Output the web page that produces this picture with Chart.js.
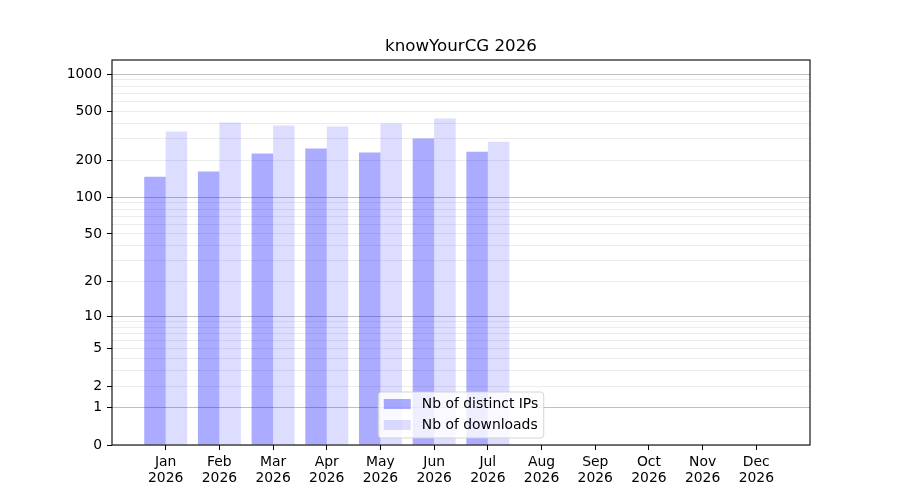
<!DOCTYPE html>
<html>
<head>
<meta charset="utf-8">
<title>knowYourCG 2026</title>
<script src="https://cdn.jsdelivr.net/npm/chart.js@4.4.1/dist/chart.umd.min.js"></script>
<style>
  html, body { margin: 0; padding: 0; background: #fff; }
  canvas { display: block; }
</style>
</head>
<body>
<canvas id="chart" width="900" height="500"></canvas>
<script>
const months = ["Jan", "Feb", "Mar", "Apr", "May", "Jun", "Jul", "Aug", "Sep", "Oct", "Nov", "Dec"];
const year = "2026";
const distinctIPs = [147, 162, 227, 249, 231, 300, 235];
const downloads = [342, 405, 383, 376, 397, 436, 283];
const yTickLabels = [0, 1, 2, 5, 10, 20, 50, 100, 200, 500, 1000];
const yMinorTicks = [3, 4, 6, 7, 8, 9, 30, 40, 60, 70, 80, 90, 300, 400, 600, 700, 800, 900];
const yMajorGrid = [1, 10, 100, 1000];

const FONT = "'DejaVu Sans', sans-serif";

// y axis that spaces values by log10(1 + v), so 0 can sit at the bottom
const f = (v) => Math.log10(1 + v);

class Log1pScale extends Chart.Scale {
  determineDataLimits() {
    this.min = this.options.min ?? 0;
    this.max = this.options.max ?? 1000;
  }
  buildTicks() {
    return [...yTickLabels, ...yMinorTicks].sort((a, b) => a - b).map((v) => ({ value: v }));
  }
  configure() {
    super.configure();
    this._startT = f(this.min);
    this._rangeT = f(this.max) - f(this.min);
  }
  getLabelForValue(v) {
    return String(v);
  }
  getPixelForValue(v) {
    return this.getPixelForDecimal((f(v) - this._startT) / this._rangeT);
  }
  getValueForPixel(p) {
    return Math.pow(10, this._startT + this.getDecimalForPixel(p) * this._rangeT) - 1;
  }
}
Log1pScale.id = "log1p";
Log1pScale.defaults = {};
Chart.register(Log1pScale);

// full box around the plot + matplotlib-like legend inside, lower center
const frameAndLegend = {
  id: "frameAndLegend",
  afterDraw(chart) {
    const { ctx, chartArea } = chart;
    ctx.save();
    ctx.strokeStyle = "#000";
    ctx.lineWidth = 1.1;
    ctx.strokeRect(chartArea.left, chartArea.top, chartArea.right - chartArea.left, chartArea.bottom - chartArea.top);

    ctx.font = "13.9px " + FONT;
    const sets = chart.data.datasets;
    const textW = Math.max(...sets.map((d) => ctx.measureText(d.label).width));
    const pad = 5.5, handle = 27, gap = 11, row = 21;
    const w = pad + handle + gap + textW + pad;
    const h = 46;
    const x = (chartArea.left + chartArea.right) / 2 - w / 2;
    const y = chartArea.bottom - 7 - h;

    ctx.beginPath();
    ctx.roundRect(x, y, w, h, 3);
    ctx.fillStyle = "rgba(255,255,255,0.8)";
    ctx.fill();
    ctx.strokeStyle = "rgba(204,204,204,0.8)";
    ctx.lineWidth = 1;
    ctx.stroke();

    ctx.textBaseline = "middle";
    ctx.textAlign = "left";
    sets.forEach((d, i) => {
      const cy = y + 12 + i * row;
      ctx.fillStyle = d.backgroundColor;
      ctx.fillRect(x + pad, cy - 5, handle, 10);
      ctx.fillStyle = "#000";
      ctx.fillText(d.label, x + pad + handle + gap, cy);
    });
    ctx.restore();
  }
};

new Chart(document.getElementById("chart"), {
  type: "bar",
  data: {
    datasets: [
      {
        label: "Nb of distinct IPs",
        data: distinctIPs.map((v, i) => ({ x: i, y: v })),
        backgroundColor: "rgba(0,0,255,0.33)",
        borderWidth: 0
      },
      {
        label: "Nb of downloads",
        data: downloads.map((v, i) => ({ x: i, y: v })),
        backgroundColor: "rgba(0,0,255,0.135)",
        borderWidth: 0
      }
    ]
  },
  options: {
    responsive: false,
    animation: false,
    devicePixelRatio: 1,
    layout: { padding: { top: 36, right: 90, left: 0, bottom: 0 } },
    datasets: { bar: { categoryPercentage: 0.8, barPercentage: 1.0 } },
    plugins: {
      legend: { display: false },
      tooltip: { enabled: false },
      title: {
        display: true,
        text: "knowYourCG 2026",
        fullSize: false,
        color: "#000",
        font: { family: FONT, size: 16.67, weight: "normal", lineHeight: 1.2 },
        padding: { top: 1, bottom: 3 }
      }
    },
    scales: {
      x: {
        type: "linear",
        min: -1,
        max: 12,
        offset: false,
        afterFit: (s) => { s.height = 55; },
        border: { display: false },
        grid: {
          offset: false,
          drawOnChartArea: false,
          tickLength: 5,
          tickColor: (c) => (c.tick && c.tick.value >= 0 && c.tick.value < months.length ? "#000" : "rgba(0,0,0,0)")
        },
        ticks: {
          stepSize: 1,
          autoSkip: false,
          maxRotation: 0,
          padding: 5,
          color: "#000",
          font: { family: FONT, size: 13.9, lineHeight: 1.1 },
          callback: (v) => (v >= 0 && v < months.length ? [months[v], year] : "")
        }
      },
      y: {
        type: "log1p",
        min: 0,
        max: 1300,
        afterFit: (s) => { s.width = 112; },
        border: { display: false },
        grid: {
          tickLength: 5,
          lineWidth: 1,
          color: (c) => (c.tick && yMajorGrid.includes(c.tick.value) ? "rgba(128,128,128,0.5)" : "rgba(128,128,128,0.15)"),
          tickColor: (c) => (c.tick && yTickLabels.includes(c.tick.value) ? "#000" : "rgba(0,0,0,0)")
        },
        ticks: {
          autoSkip: false,
          padding: 5,
          color: "#000",
          font: { family: FONT, size: 13.9 },
          callback: (v) => (yTickLabels.includes(v) ? String(v) : "")
        }
      }
    }
  },
  plugins: [frameAndLegend]
});
</script>
</body>
</html>
